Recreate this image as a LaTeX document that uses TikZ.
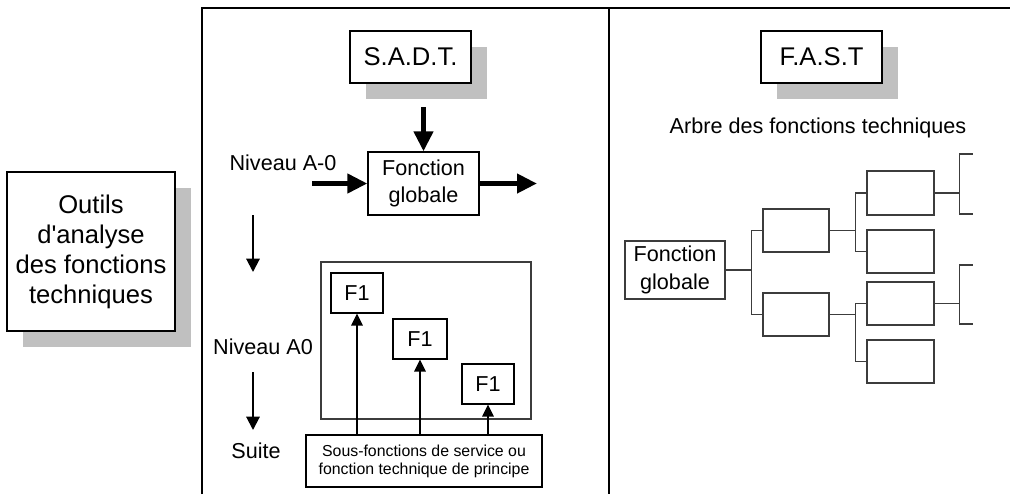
\documentclass[tikz,border=0pt]{standalone}
\usepackage{fontspec}
\setmainfont{Liberation Sans}
\usetikzlibrary{arrows.meta,shadows}
\definecolor{shadowgray}{HTML}{C0C0C0}
\definecolor{linegray}{HTML}{3C3C3C}

\begin{document}
\begin{tikzpicture}[x=0.75pt,y=-0.75pt,
  box/.style={draw=black, line width=0.9pt, fill=white, inner sep=0pt, align=center},
  boxsize/.style 2 args={minimum width=#1*0.75pt, minimum height=#2*0.75pt},
  shadowed/.style={box, general shadow={fill=shadowgray, shadow xshift=12pt, shadow yshift=-12pt}},
  bigfont/.style={font=\fontsize{19.2}{22.5}\selectfont},
  midfont/.style={font=\fontsize{16.2}{20.5}\selectfont},
  smallfont/.style={font=\fontsize{11.9}{13.6}\selectfont},
  treebox/.style={draw=linegray, line width=0.9pt, inner sep=0pt, align=center},
  treeline/.style={draw=linegray, line width=0.9pt},
  framel/.style={line width=1.5pt},
  bigarrow/.style={line width=3.9pt, -{Triangle[length=15pt,width=14pt]}},
  thinarrow/.style={line width=1.5pt, -{Triangle[length=10pt,width=10pt]}},
  uparrow/.style={line width=1.5pt, -{Triangle[length=9pt,width=8.5pt]}}
]
\useasboundingbox (0,0) rectangle (1010,494);

% outer frame and divider
\draw[framel] (202,494) -- (202,8) -- (1010,8);
\draw[framel] (609,8) -- (609,494);

% left title box
\node[shadowed, boxsize={168}{159}, bigfont] (outils) at (91,251.5)
  {Outils\\d\textquotesingle analyse\\des fonctions\\techniques};

% S.A.D.T. column
\node[shadowed, boxsize={121}{52}, bigfont] (sadt) at (410.5,57) {S.A.D.T.};
\node[box, boxsize={111}{63}, midfont] (fg) at (423.5,183.5) {Fonction\\globale};
\node[midfont] (nivA0m) at (283,163) {Niveau A-0};
\node[midfont] (nivA0) at (263,347) {Niveau A0};
\node[midfont] (suite) at (256,451) {Suite};

\coordinate (ctrl) at (423.5,107);
\coordinate (inp) at (312,183.5);
\coordinate (outp) at (537,183.5);
\draw[bigarrow] (ctrl) -- (fg.north);
\draw[bigarrow] (inp) -- (fg.west);
\draw[bigarrow] (fg.east) -- (outp);

\coordinate (d1s) at (253,215);
\coordinate (d1e) at (253,272);
\coordinate (d2s) at (253,372);
\coordinate (d2e) at (253,430);
\draw[thinarrow] (d1s) -- (d1e);
\draw[thinarrow] (d2s) -- (d2e);

\node[draw=linegray, line width=0.9pt, boxsize={210}{157}] (a0) at (426,340.5) {};
\node[box, boxsize={52}{40}, midfont] (f1a) at (357,293) {F1};
\node[box, boxsize={54}{40}, midfont] (f1b) at (420,339) {F1};
\node[box, boxsize={52}{40}, midfont] (f1c) at (488,384) {F1};
\node[box, boxsize={236}{52}, smallfont] (sf) at (424,461)
  {Sous-fonctions de service ou\\fonction technique de principe};
\draw[uparrow] (sf.north -| f1a.south) -- (f1a.south);
\draw[uparrow] (sf.north -| f1b.south) -- (f1b.south);
\draw[uparrow] (sf.north -| f1c.south) -- (f1c.south);

% F.A.S.T column
\node[shadowed, boxsize={121}{52}, bigfont] (fast) at (821.5,57) {F.A.S.T};
\node[midfont] (arbre) at (818,128) {Arbre des fonctions techniques};

\node[treebox, boxsize={100}{58}, midfont] (tfg) at (675,270) {Fonction\\globale};
\node[treebox, boxsize={66}{43}] (l1a) at (796,230.5) {};
\node[treebox, boxsize={66}{43}] (l1b) at (796,314.5) {};
\node[treebox, boxsize={67}{44}] (l2a) at (900.5,193) {};
\node[treebox, boxsize={67}{43}] (l2b) at (900.5,251.5) {};
\node[treebox, boxsize={67}{43}] (l2c) at (900.5,303.5) {};
\node[treebox, boxsize={67}{43}] (l2d) at (900.5,361.5) {};
\coordinate (l3a) at (973,154);
\coordinate (l3b) at (973,214);
\coordinate (l3c) at (973,265);
\coordinate (l3d) at (973,324);

\draw[treeline] (tfg.east) -- ++(26,0) |- (l1a.west);
\draw[treeline] (tfg.east) ++(26,0) |- (l1b.west);
\draw[treeline] (l1a.east) -- ++(26,0) |- (l2a.west);
\draw[treeline] (l1a.east) ++(26,0) |- (l2b.west);
\draw[treeline] (l1b.east) -- ++(26,0) |- (l2c.west);
\draw[treeline] (l1b.east) ++(26,0) |- (l2d.west);
\draw[treeline] (l2a.east) -- ++(25,0) |- (l3a);
\draw[treeline] (l2a.east) ++(25,0) |- (l3b);
\draw[treeline] (l2c.east) -- ++(25,0) |- (l3c);
\draw[treeline] (l2c.east) ++(25,0) |- (l3d);
\end{tikzpicture}
\end{document}
